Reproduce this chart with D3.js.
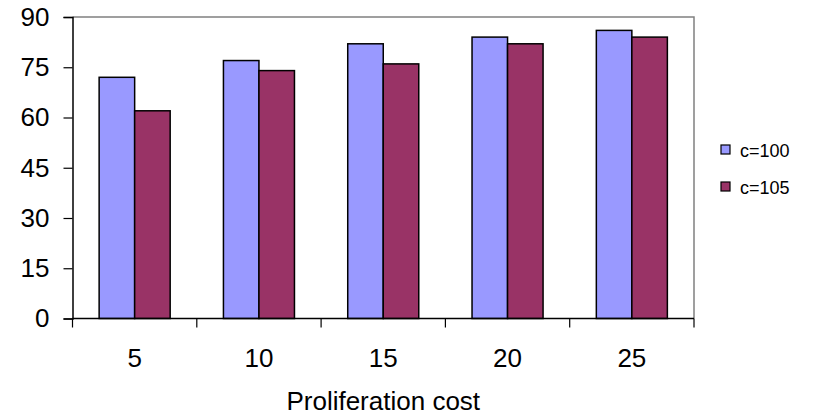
<!DOCTYPE html>
<html>
<head>
<meta charset="utf-8">
<script src="https://cdn.jsdelivr.net/npm/d3@7"></script>
<style>
  html, body { margin: 0; padding: 0; background: #fff; }
  svg { display: block; font-family: "Liberation Sans", Arial, sans-serif; }
</style>
</head>
<body>
<svg id="chart" width="819" height="416"></svg>
<script>
// Proliferation cost categories and the two series
const categories = ["5", "10", "15", "20", "25"];
const seriesNames = ["c=100", "c=105"];
const c100 = [72, 77, 82, 84, 86];
const c105 = [62, 74, 76, 82, 84];
const yTicks = [0, 15, 30, 45, 60, 75, 90];
const seriesColors = ["#9999FF", "#993366"];

const svg = d3.select("#chart");
const plot = { left: 72.5, right: 694, top: 17, bottom: 318.5 };

const x = d3.scaleBand().domain(categories).range([plot.left, plot.right]).paddingInner(0).paddingOuter(0);
const y = d3.scaleLinear().domain([0, 90]).range([plot.bottom, plot.top]);
// Each category holds two bars with a gap of 1.5 bar widths
const barW = x.bandwidth() / 3.5;
const xs = d3.scaleBand().domain(seriesNames).range([0, 2 * barW]);

// Plot frame: grey top and right edges
svg.append("path")
  .attr("d", `M${plot.left},${plot.top}H${plot.right}V${plot.bottom}`)
  .attr("fill", "none").attr("stroke", "#808080").attr("stroke-width", 1.5);

const rows = categories.map((c, i) => ({ cat: c, vals: [c100[i], c105[i]] }));

svg.append("g").selectAll("g").data(rows).join("g")
  .attr("transform", d => `translate(${x(d.cat) + (x.bandwidth() - 2 * barW) / 2},0)`)
  .selectAll("rect").data(d => d.vals.map((v, j) => ({ v, name: seriesNames[j], j })))
  .join("rect")
  .attr("x", d => xs(d.name))
  .attr("y", d => y(d.v))
  .attr("width", barW)
  .attr("height", d => y(0) - y(d.v))
  .attr("fill", d => seriesColors[d.j])
  .attr("stroke", "#000").attr("stroke-width", 1.5);

// Y axis
const yAxis = svg.append("g").attr("transform", `translate(${plot.left},0)`)
  .call(d3.axisLeft(y).tickValues(yTicks).tickSize(9).tickPadding(14));
yAxis.select(".domain").attr("stroke", "#000").attr("stroke-width", 1.5);
yAxis.selectAll(".tick line").attr("stroke", "#000").attr("stroke-width", 1.2);
yAxis.selectAll("text").attr("font-size", 26).attr("fill", "#000")
  .attr("font-family", "Liberation Sans, Arial, sans-serif");

// X axis: ticks sit on the category boundaries
const xAxis = svg.append("g").attr("transform", `translate(0,${plot.bottom})`);
xAxis.append("line").attr("x1", plot.left).attr("x2", plot.right)
  .attr("stroke", "#000").attr("stroke-width", 1.5);
const bounds = categories.map(c => x(c)).concat([plot.right]);
xAxis.selectAll(".bt").data(bounds).join("line").attr("class", "bt")
  .attr("x1", d => d).attr("x2", d => d).attr("y1", 0).attr("y2", 9)
  .attr("stroke", "#000").attr("stroke-width", 1.2);
xAxis.selectAll(".lbl").data(categories).join("text").attr("class", "lbl")
  .attr("x", d => x(d) + x.bandwidth() / 2).attr("y", 48)
  .attr("text-anchor", "middle").attr("font-size", 26).attr("fill", "#000")
  .text(d => d);

svg.append("text")
  .attr("x", (plot.left + plot.right) / 2).attr("y", 410)
  .attr("text-anchor", "middle").attr("font-size", 26).attr("fill", "#000")
  .text("Proliferation cost");

// Legend
const legend = svg.append("g").attr("transform", "translate(721,145)");
const li = legend.selectAll("g").data(seriesNames).join("g")
  .attr("transform", (d, i) => `translate(0,${i * 37})`);
li.append("rect").attr("width", 9).attr("height", 9)
  .attr("fill", (d, i) => seriesColors[i]).attr("stroke", "#000").attr("stroke-width", 1.2);
li.append("text").attr("x", 19).attr("y", 12).attr("font-size", 18).attr("fill", "#000")
  .text(d => d);
</script>
</body>
</html>
